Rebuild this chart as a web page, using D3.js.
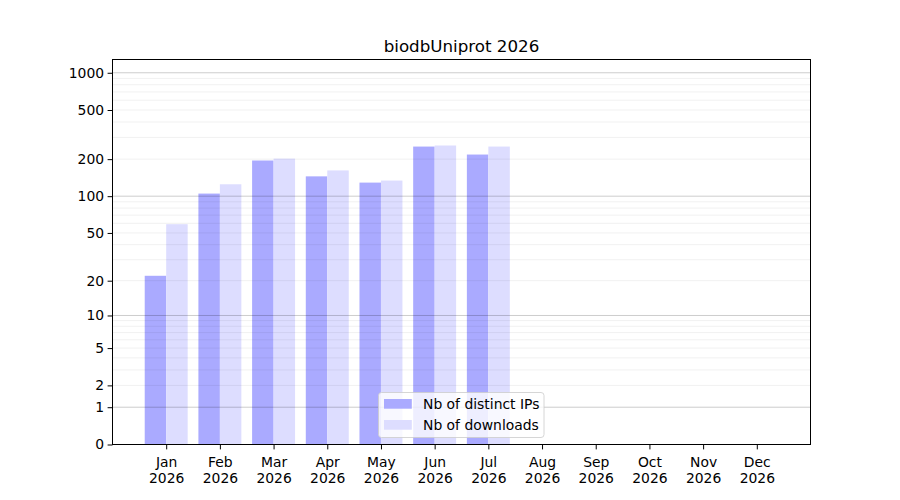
<!DOCTYPE html>
<html>
<head>
<meta charset="utf-8">
<script src="https://cdn.jsdelivr.net/npm/d3@7"></script>
<style>
  body { margin: 0; background: #fff; }
  svg { display: block; font-family: "DejaVu Sans", sans-serif; }
</style>
</head>
<body>
<svg id="chart" width="900" height="500"></svg>
<script>
const title = "biodbUniprot 2026";
const months = ["Jan", "Feb", "Mar", "Apr", "May", "Jun", "Jul", "Aug", "Sep", "Oct", "Nov", "Dec"];
const year = "2026";
const distinctIPs = [22, 105, 195, 145, 129, 253, 218, null, null, null, null, null];
const downloads = [59, 125, 202, 162, 134, 258, 253, null, null, null, null, null];
const yTickValues = [0, 1, 2, 5, 10, 20, 50, 100, 200, 500, 1000];
const yMajorGrid = [1, 10, 100, 1000];
const seriesNames = ["Nb of distinct IPs", "Nb of downloads"];
const seriesColors = ["#aaaaff", "#ddddff"];

const svg = d3.select("#chart");
const L = 112.5, R = 810.5, T = 59.5, B = 444.5;

const x = d3.scaleLinear().domain([-1, 12]).range([L, R]);
const y = d3.scaleSymlog().constant(1).domain([0, 1280]).range([B, T]);
const barW = 0.4;

const minorGrid = [];
[1, 10, 100].forEach(d => { for (let k = 2; k <= 9; k++) minorGrid.push(d * k); });

const idx = d3.range(months.length);
svg.append("g").selectAll("rect").data(idx.filter(i => distinctIPs[i] != null)).join("rect")
  .attr("x", i => x(i - barW)).attr("width", i => x(i) - x(i - barW))
  .attr("y", i => y(distinctIPs[i])).attr("height", i => B - y(distinctIPs[i]))
  .attr("fill", seriesColors[0]);
svg.append("g").selectAll("rect").data(idx.filter(i => downloads[i] != null)).join("rect")
  .attr("x", i => x(i)).attr("width", i => x(i + barW) - x(i))
  .attr("y", i => y(downloads[i])).attr("height", i => B - y(downloads[i]))
  .attr("fill", seriesColors[1]);

const grid = svg.append("g");
grid.selectAll("line.minor").data(minorGrid).join("line").attr("class", "minor")
  .attr("x1", L).attr("x2", R).attr("y1", d => y(d)).attr("y2", d => y(d))
  .attr("stroke", "#000").attr("stroke-opacity", 0.075).attr("stroke-width", 0.8);
grid.selectAll("line.major").data(yMajorGrid).join("line").attr("class", "major")
  .attr("x1", L).attr("x2", R).attr("y1", d => y(d)).attr("y2", d => y(d))
  .attr("stroke", "#000").attr("stroke-opacity", 0.25).attr("stroke-width", 0.8);

const yAxis = d3.axisLeft(y).tickValues(yTickValues).tickFormat(d3.format("d")).tickSize(4.9).tickPadding(3.5);
const gy = svg.append("g").attr("transform", `translate(${L},0)`).call(yAxis);
gy.select(".domain").remove();
gy.selectAll("text").attr("font-size", "13.9px").attr("fill", "#000").attr("font-family", "DejaVu Sans");
gy.selectAll("line").attr("stroke", "#000").attr("stroke-width", 1);

const xAxis = d3.axisBottom(x).tickValues(idx).tickSize(4.9).tickFormat(() => "");
const gx = svg.append("g").attr("transform", `translate(0,${B})`).call(xAxis);
gx.select(".domain").remove();
gx.selectAll("line").attr("stroke", "#000").attr("stroke-width", 1);
gx.selectAll(".tick").each(function(d) {
  const t = d3.select(this).append("text").attr("fill", "#000").attr("font-size", "13.9px")
    .attr("text-anchor", "middle").attr("font-family", "DejaVu Sans");
  t.append("tspan").attr("x", 0).attr("y", 22).text(months[d]);
  t.append("tspan").attr("x", 0).attr("y", 38).text(year);
});

svg.append("rect").attr("x", L).attr("y", T).attr("width", R - L).attr("height", B - T)
  .attr("fill", "none").attr("stroke", "#000").attr("stroke-width", 1).attr("shape-rendering", "crispEdges");

svg.append("text").attr("x", (L + R) / 2).attr("y", 52).attr("text-anchor", "middle")
  .attr("font-size", "16.7px").attr("fill", "#000").text(title);

const lg = svg.append("g").attr("transform", "translate(378.5,392.5)");
lg.append("rect").attr("width", 165.5).attr("height", 45).attr("rx", 3)
  .attr("fill", "#fff").attr("fill-opacity", 0.8).attr("stroke", "#cccccc").attr("stroke-width", 0.8);
seriesNames.forEach((name, i) => {
  lg.append("rect").attr("x", 5.5).attr("y", 6.5 + i * 21).attr("width", 27.8).attr("height", 9.7)
    .attr("fill", seriesColors[i]);
  lg.append("text").attr("x", 44.5).attr("y", 16.3 + i * 21).attr("font-size", "13.9px")
    .attr("fill", "#000").text(name);
});
</script>
</body>
</html>
